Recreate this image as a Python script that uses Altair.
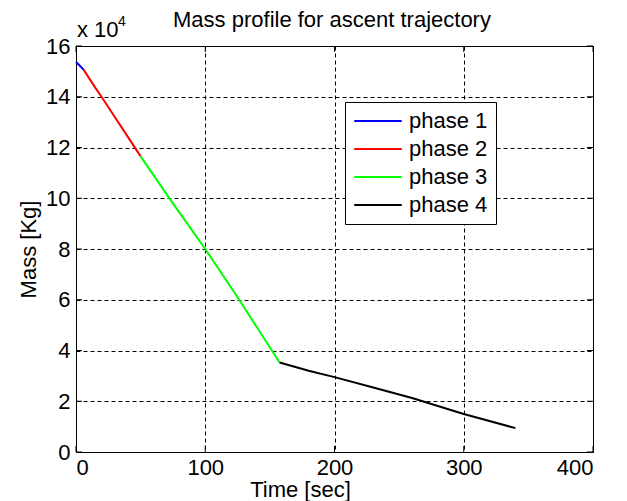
import altair as alt
import pandas as pd

# ---- data ----
phase1_t = [0, 3, 6]
phase1_m = [153700, 152200, 150600]

phase2_t = [6, 15, 20, 30, 40, 50]
phase2_m = [150600, 143500, 139800, 132000, 124300, 116500]

phase3_t = [50, 75, 100, 125, 157.5]
phase3_m = [116500, 98000, 80000, 61000, 35300]

phase4_t = [157.5, 180, 200, 230, 260, 300, 340]
phase4_m = [35300, 32000, 29500, 25400, 21300, 15000, 9400]

phase_names = ["phase 1", "phase 2", "phase 3", "phase 4"]
phase_colors = ["#0000ff", "#ff0000", "#00ff00", "#000000"]

x_ticks = [0, 100, 200, 300, 400]
y_ticks = [0, 20000, 40000, 60000, 80000, 100000, 120000, 140000, 160000]

rows = []
for name, ts, ms in zip(phase_names, [phase1_t, phase2_t, phase3_t, phase4_t],
                        [phase1_m, phase2_m, phase3_m, phase4_m]):
    for t, m in zip(ts, ms):
        rows.append({"t": t, "m": m, "phase": name})
df = pd.DataFrame(rows)

FONT = "Liberation Sans"
W, H = 517, 406

xscale = alt.Scale(domain=[0, 400], nice=False)
yscale = alt.Scale(domain=[0, 160000], nice=False)

lines = alt.Chart(df).mark_line(strokeWidth=2).encode(
    x=alt.X("t:Q", scale=xscale,
            axis=alt.Axis(values=x_ticks, title="Time [sec]", titleX=224, titleY=44,
                          titleBaseline="alphabetic", titleFontSize=22, titleFontWeight="normal",
                          labelFontSize=22, labelPadding=5, ticks=False, grid=True,
                          gridDash=[4, 3], gridColor="#000000", gridOpacity=1,
                          domainColor="#000000", labelColor="#000000", titleColor="#000000",
                          labelFont=FONT, titleFont=FONT)),
    y=alt.Y("m:Q", scale=yscale,
            axis=alt.Axis(values=y_ticks, title="Mass [Kg]", labelExpr="datum.value / 10000",
                          titleX=-41, titleY=203, titleAngle=270, titleAlign="center",
                          titleBaseline="alphabetic", titleFontSize=22, titleFontWeight="normal",
                          labelFontSize=22, labelPadding=6, ticks=False, grid=True,
                          gridDash=[4, 3], gridColor="#000000", gridOpacity=1,
                          domainColor="#000000", labelColor="#000000", titleColor="#000000",
                          labelFont=FONT, titleFont=FONT)),
    color=alt.Color("phase:N", scale=alt.Scale(domain=phase_names, range=phase_colors),
                    legend=alt.Legend(title=None, orient="none", legendX=269, legendY=56,
                                      symbolType="M-2.5,0H2.5", symbolSize=361,
                                      symbolStrokeWidth=2, symbolOffset=14,
                                      labelFontSize=22, labelFont=FONT, labelColor="#000000",
                                      labelOffset=20, rowPadding=6, padding=8,
                                      strokeColor="#000000", fillColor="#ffffff")),
    order=alt.Order("t:Q"),
)

xt = pd.DataFrame({"v": x_ticks})
yt = pd.DataFrame({"v": y_ticks})
tick_b = alt.Chart(xt).mark_rule(color="black").encode(
    x=alt.X("v:Q", scale=xscale), y=alt.value(H), y2=alt.value(H - 6))
tick_t = alt.Chart(xt).mark_rule(color="black").encode(
    x=alt.X("v:Q", scale=xscale), y=alt.value(0), y2=alt.value(6))
tick_l = alt.Chart(yt).mark_rule(color="black").encode(
    y=alt.Y("v:Q", scale=yscale), x=alt.value(0), x2=alt.value(6))
tick_r = alt.Chart(yt).mark_rule(color="black").encode(
    y=alt.Y("v:Q", scale=yscale), x=alt.value(W), x2=alt.value(W - 6))

title_txt = alt.Chart(pd.DataFrame({"s": ["Mass profile for ascent trajectory"]})).mark_text(
    font=FONT, fontSize=22, align="center", baseline="alphabetic", color="black").encode(
    text="s:N", x=alt.value(256), y=alt.value(-19))
exp_a = alt.Chart(pd.DataFrame({"s": ["x 10"]})).mark_text(
    font=FONT, fontSize=22, align="left", baseline="alphabetic", color="black").encode(
    text="s:N", x=alt.value(1), y=alt.value(-9))
exp_b = alt.Chart(pd.DataFrame({"s": ["4"]})).mark_text(
    font=FONT, fontSize=14, align="left", baseline="alphabetic", color="black").encode(
    text="s:N", x=alt.value(42), y=alt.value(-20))

chart = alt.layer(lines, tick_b, tick_t, tick_l, tick_r, title_txt, exp_a, exp_b).properties(
    width=W, height=H,
    autosize=alt.AutoSizeParams(type="none"),
    padding={"left": 76, "top": 46, "right": 34, "bottom": 49},
    background="white",
).configure_view(stroke="black", strokeWidth=1)

chart.save("out.html", embed_options={"renderer": "svg", "actions": False})
